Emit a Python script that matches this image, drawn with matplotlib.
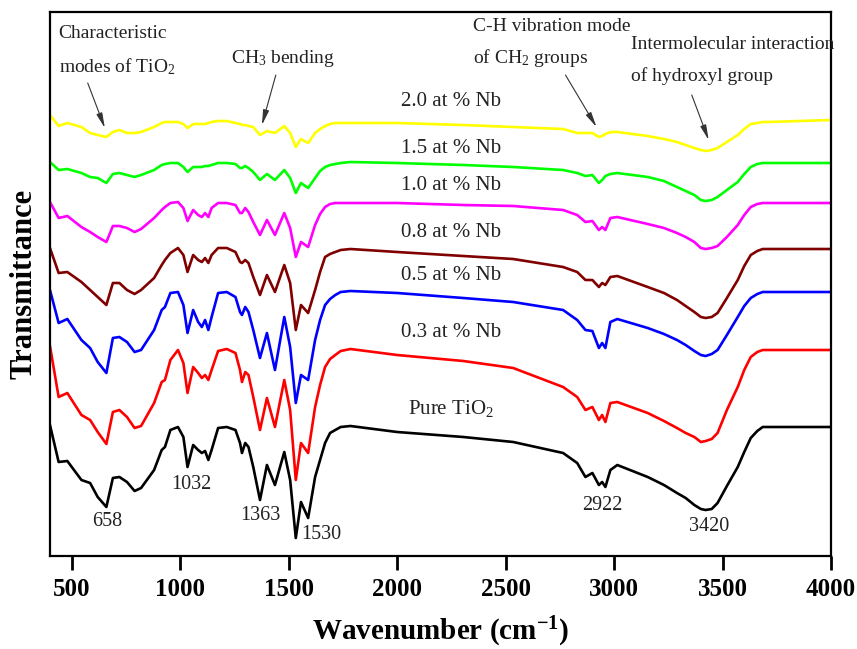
import matplotlib
matplotlib.use("Agg")
import matplotlib.pyplot as plt

plt.rcParams['font.family'] = ['Liberation Serif', 'DejaVu Serif']
plt.rcParams['mathtext.fontset'] = 'custom'
plt.rcParams['mathtext.rm'] = 'Liberation Serif'
plt.rcParams['mathtext.it'] = 'Liberation Serif:italic'
plt.rcParams['mathtext.bf'] = 'Liberation Serif:bold'

# Shared wavenumber grid (cm^-1)
wavenumber = [400, 440, 480, 545, 585, 620, 660, 690, 720, 755, 790, 820, 880, 915, 930, 955,
              990, 1015, 1034, 1060, 1083, 1100, 1115, 1130, 1145, 1175, 1215, 1255, 1276, 1285,
              1300, 1315, 1337, 1368, 1400, 1437, 1480, 1507, 1533, 1557,
              1590, 1622, 1645, 1668, 1691, 1715, 1740, 1785, 2000, 2305, 2535, 2765, 2830, 2868,
              2900, 2930, 2945, 2960, 2983, 3015, 3155, 3230, 3290, 3330, 3370, 3400, 3422, 3450,
              3477, 3520, 3570, 3600, 3630, 3660, 3685, 3710, 4000]

# Transmittance (a.u., stacked/offset as in the figure)
pure_tio2 = [131, 94, 95, 76, 73, 59, 49, 78, 79, 74, 65, 68, 86, 106, 109, 126,
             129, 119, 89, 111, 106, 103, 105, 96, 106, 128, 129, 126, 113, 103,
             113, 109, 89, 56, 91, 71, 104, 76, 18, 54,
             38, 79, 96, 113, 123, 126, 129, 130, 124, 119, 114, 103, 93, 79,
             83, 71, 74, 69, 86, 91, 79, 71, 63, 58, 51, 47, 46, 47,
             53, 70, 89, 104, 118, 125, 129, 129, 129]
nb_03 = [210, 159, 163, 141, 136, 124, 112, 144, 146, 139, 128, 130, 153, 174, 176, 196,
         206, 193, 163, 189, 183, 178, 181, 176, 186, 205, 207, 203, 186, 174,
         184, 181, 159, 126, 158, 129, 176, 146, 76, 113,
         103, 149, 171, 189, 197, 201, 205, 207, 201, 195, 188, 169, 159, 146,
         149, 136, 141, 134, 153, 154, 143, 135, 128, 123, 119, 114, 115, 117,
         123, 146, 169, 186, 199, 204, 206, 206, 206]
nb_05 = [266, 233, 237, 216, 208, 194, 183, 218, 219, 214, 204, 206, 226, 246, 249, 263,
         264, 251, 223, 246, 234, 229, 236, 226, 239, 263, 264, 259, 244, 241,
         249, 244, 226, 198, 223, 186, 239, 209, 153, 181,
         176, 216, 236, 251, 257, 261, 264, 265, 263, 258, 254, 246, 236, 226,
         225, 208, 213, 208, 234, 237, 228, 222, 216, 211, 205, 201, 200, 202,
         206, 221, 239, 250, 258, 262, 264, 264, 264]
nb_08 = [308, 283, 284, 274, 266, 259, 251, 273, 273, 266, 262, 266, 278, 291, 296, 303,
         308, 301, 284, 301, 296, 294, 298, 293, 301, 308, 308, 304, 294, 293,
         296, 293, 279, 261, 281, 264, 291, 273, 226, 251,
         243, 266, 284, 299, 302, 304, 306, 307, 304, 300, 297, 289, 284, 276,
         276, 269, 273, 271, 279, 280, 269, 263, 256, 250, 244, 239, 238, 239,
         243, 258, 276, 290, 301, 305, 307, 307, 307]
nb_10 = [354, 338, 340, 329, 324, 319, 314, 330, 330, 328, 324, 327, 338, 346, 349, 353,
         354, 348, 335, 346, 341, 339, 343, 339, 348, 353, 353, 351, 343, 343,
         348, 344, 334, 321, 336, 321, 343, 328, 299, 314,
         309, 331, 342, 349, 352, 353, 353, 353, 353, 351, 350, 346, 341, 334,
         335, 326, 329, 326, 338, 339, 332, 328, 323, 319, 314, 308, 307, 308,
         310, 319, 331, 341, 349, 352, 353, 353, 353]
nb_15 = [394, 386, 387, 383, 379, 378, 373, 382, 383, 381, 379, 381, 386, 391, 392, 393,
         393, 389, 384, 389, 389, 389, 390, 390, 391, 393, 393, 392, 388, 388,
         390, 388, 384, 376, 382, 376, 386, 378, 363, 373,
         368, 378, 385, 389, 391, 392, 393, 394, 393, 391, 389, 386, 383, 380,
         381, 373, 376, 380, 382, 383, 379, 375, 369, 365, 361, 356, 355, 356,
         359, 366, 374, 382, 389, 392, 393, 393, 393]
nb_20 = [441, 430, 433, 429, 423, 421, 419, 424, 426, 423, 423, 424, 429, 433, 434, 434,
         434, 432, 428, 432, 432, 432, 432, 433, 434, 435, 435, 433, 432, 431,
         431, 430, 429, 421, 425, 423, 430, 423, 409, 417,
         413, 423, 427, 430, 432, 433, 433, 433, 433, 431, 429, 427, 423, 423,
         423, 419, 420, 422, 424, 424, 420, 417, 414, 411, 408, 406, 405, 406,
         408, 414, 421, 427, 432, 433, 434, 434, 436]

series = [pure_tio2, nb_03, nb_05, nb_08, nb_10, nb_15, nb_20]
colors = ['#000000', '#FF0000', '#0000FF', '#800000', '#FF00FF', '#00FF00', '#FFFF00']
curve_labels = ['Pure TiO$_2$', '0.3 at % Nb', '0.5 at % Nb', '0.8 at % Nb',
                '1.0 at % Nb', '1.5 at % Nb', '2.0 at % Nb']
curve_label_y = [148, 224, 281, 324, 371, 408, 455]

peak_labels = ['658', '1032', '1363', '1530', '2922', '3420']
peak_label_pos = [(662, 34), (1053, 71), (1368, 40), (1650, 21), (2947, 50), (3439, 29)]

fig = plt.figure(figsize=(8.57, 6.49), dpi=100)
ax = fig.add_axes([0.0583, 0.1433, 0.9114, 0.8382])

for y, c in zip(series, colors):
    ax.plot(wavenumber, y, color=c, lw=1.9, solid_joinstyle='round')

ax.set_xlim(400, 4000)
ax.set_ylim(0, 544)
ax.set_xticks([500, 1000, 1500, 2000, 2500, 3000, 3500, 4000])
ax.set_yticks([])
ax.tick_params(axis='x', direction='out', length=10, width=2, labelsize=18, pad=6)
for lab in ax.get_xticklabels():
    lab.set_fontweight('bold')
for s in ax.spines.values():
    s.set_linewidth(1.6)

ax.set_xlabel('Wavenumber (cm$^{\\mathbf{-1}}$)', fontsize=21, fontweight='bold', labelpad=10)
ax.set_ylabel('Transmittance', fontsize=22, fontweight='bold', labelpad=8)

for lab, yv in zip(curve_labels, curve_label_y):
    ax.text(2250, yv, lab, fontsize=15, ha='center', va='center', color='#222222')

for lab, (xv, yv) in zip(peak_labels, peak_label_pos):
    ax.text(xv, yv, lab, fontsize=14.5, ha='center', va='center', color='#222222')

ann_fs = 14
ax.text(440, 523, 'Characteristic', fontsize=ann_fs, ha='left', va='center', color='#222222')
ax.text(440, 489, 'modes of TiO$_2$', fontsize=ann_fs, ha='left', va='center', color='#222222')
ax.text(1234, 498, 'CH$_3$ bending', fontsize=ann_fs, ha='left', va='center', color='#222222')
ax.text(2352, 530, 'C-H vibration mode', fontsize=ann_fs, ha='left', va='center', color='#222222')
ax.text(2352, 498, 'of CH$_2$ groups', fontsize=ann_fs, ha='left', va='center', color='#222222')
ax.text(3076, 512, 'Intermolecular interaction', fontsize=ann_fs, ha='left', va='center', color='#222222')
ax.text(3076, 480, 'of hydroxyl group', fontsize=ann_fs, ha='left', va='center', color='#222222')

arrows = [((574, 473), (653, 428)), ((1441, 481), (1377, 431)),
          ((2776, 481), (2919, 429)), ((3358, 461), (3436, 416))]
for tail, head in arrows:
    ax.annotate('', xy=head, xytext=tail,
                arrowprops=dict(arrowstyle='-|>,head_width=0.18,head_length=0.9',
                                color='#333333', lw=0.8, shrinkA=0, shrinkB=0))

fig.savefig('out.png', dpi=100)
